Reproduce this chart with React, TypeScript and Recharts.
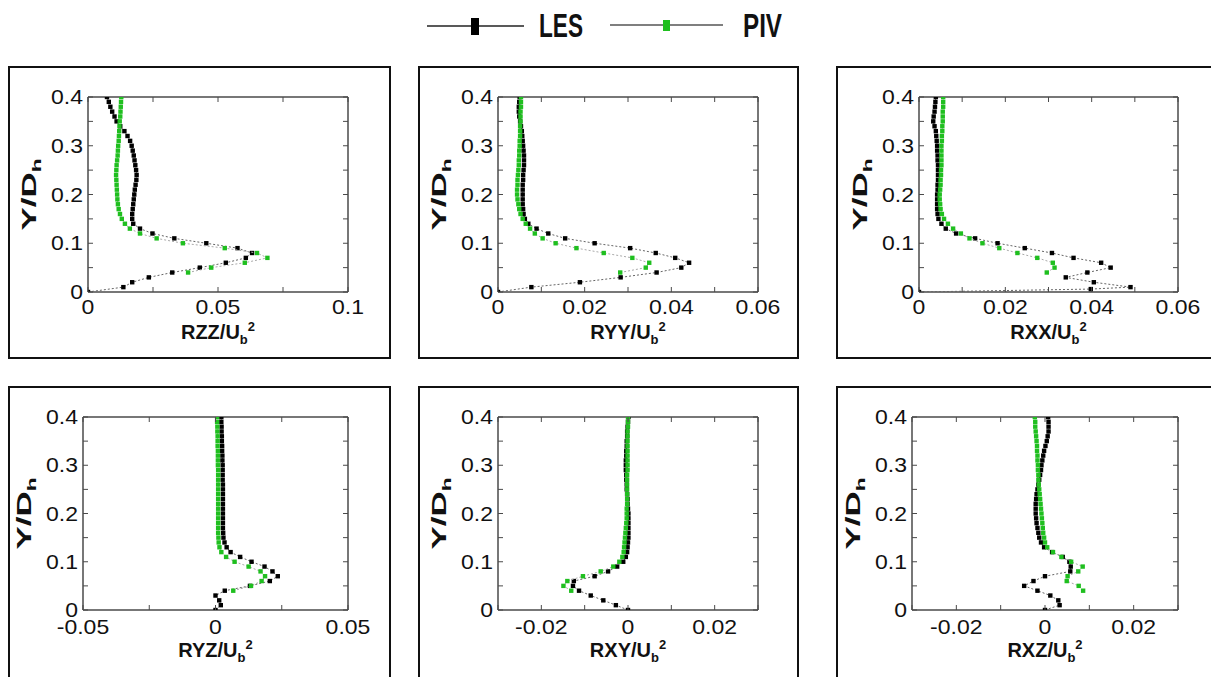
import React from 'react';
import { ScatterChart, Scatter, XAxis, YAxis, ReferenceLine, Label } from 'recharts';

// Y/Dh stations
const yLES = [0, 0.01, 0.02, 0.03, 0.04, 0.05, 0.06, 0.07, 0.08, 0.09, 0.1, 0.11, 0.12, 0.13, 0.14, 0.15, 0.16, 0.17, 0.18, 0.19, 0.2,
  0.21, 0.22, 0.23, 0.24, 0.25, 0.26, 0.27, 0.28, 0.29, 0.3, 0.31, 0.32, 0.33, 0.34, 0.35, 0.36, 0.37, 0.38, 0.39, 0.4];
const yLESrxx = [0, 0.006, 0.01, 0.02, 0.03, 0.04, 0.05, 0.06, 0.07, 0.08, 0.09, 0.1, 0.11, 0.12, 0.13, 0.14, 0.15, 0.16, 0.17, 0.18, 0.19, 0.2,
  0.21, 0.22, 0.23, 0.24, 0.25, 0.26, 0.27, 0.28, 0.29, 0.3, 0.31, 0.32, 0.33, 0.34, 0.35, 0.36, 0.37, 0.38, 0.39, 0.4];
const yPIV = [0.04, 0.05, 0.06, 0.07, 0.08, 0.09, 0.1, 0.11, 0.12, 0.13, 0.14, 0.15, 0.16, 0.17, 0.18, 0.19, 0.2,
  0.21, 0.22, 0.23, 0.24, 0.25, 0.26, 0.27, 0.28, 0.29, 0.3, 0.31, 0.32, 0.33, 0.34, 0.35, 0.36, 0.37, 0.38, 0.39, 0.4];

// Reynolds stresses / Ub^2
const rzzLES = [0, 0.0136, 0.017, 0.0234, 0.0324, 0.043, 0.053, 0.0607, 0.0631, 0.0575, 0.0455, 0.0332, 0.0248, 0.02, 0.0174,
  0.017, 0.017, 0.0172, 0.0174, 0.0176, 0.0178, 0.018, 0.0183, 0.0186, 0.0187, 0.0185, 0.0182, 0.0179, 0.0176, 0.0172,
  0.0168, 0.0162, 0.0152, 0.014, 0.0124, 0.011, 0.0102, 0.0093, 0.0086, 0.008, 0.0073];
const rzzPIV = [0.0385, 0.0474, 0.0603, 0.069, 0.065, 0.0526, 0.0365, 0.0264, 0.02, 0.0161, 0.0142, 0.013, 0.0123, 0.0118,
  0.0115, 0.0113, 0.0112, 0.0111, 0.011, 0.0109, 0.0108, 0.0109, 0.011, 0.0112, 0.0114, 0.0115, 0.0116, 0.0118, 0.0119,
  0.012, 0.0121, 0.0122, 0.0124, 0.0125, 0.0126, 0.0127, 0.0128];

const ryyLES = [0, 0.0077, 0.0189, 0.0283, 0.0366, 0.0423, 0.0441, 0.0409, 0.0364, 0.0305, 0.0223, 0.0155, 0.0116, 0.0089,
  0.007, 0.0062, 0.0059, 0.0058, 0.0057, 0.0057, 0.0057, 0.0057, 0.0057, 0.0058, 0.0058, 0.0059, 0.006, 0.006, 0.006,
  0.0059, 0.0058, 0.0057, 0.0056, 0.0055, 0.0053, 0.0051, 0.0049, 0.0048, 0.0048, 0.0049, 0.005];
const ryyPIV = [0.0282, 0.0341, 0.0349, 0.031, 0.0244, 0.0181, 0.0133, 0.0103, 0.0085, 0.0074, 0.0064, 0.0057, 0.0052,
  0.0049, 0.0047, 0.0045, 0.0044, 0.0044, 0.0045, 0.0045, 0.0046, 0.0047, 0.0048, 0.0048, 0.0049, 0.0049, 0.005, 0.005,
  0.0051, 0.0051, 0.0051, 0.0052, 0.0052, 0.0052, 0.0053, 0.0053, 0.0053];

const rxxLES = [0, 0.0398, 0.049, 0.0405, 0.034, 0.039, 0.0444, 0.0422, 0.0358, 0.0308, 0.0245, 0.0182, 0.013, 0.0086,
  0.0062, 0.0052, 0.0045, 0.0043, 0.0042, 0.0042, 0.0042, 0.0042, 0.0043, 0.0043, 0.0044, 0.0044, 0.0044, 0.0044, 0.0043,
  0.0043, 0.0042, 0.0042, 0.0041, 0.004, 0.0039, 0.0036, 0.0033, 0.0034, 0.0036, 0.0037, 0.0038, 0.0039];
const rxxPIV = [0.0296, 0.0314, 0.031, 0.0274, 0.0228, 0.0186, 0.0147, 0.0117, 0.0097, 0.0079, 0.0067, 0.0058, 0.0053,
  0.005, 0.0049, 0.0048, 0.0048, 0.0049, 0.005, 0.005, 0.0051, 0.0051, 0.0052, 0.0052, 0.0052, 0.0052, 0.0052, 0.0053,
  0.0053, 0.0054, 0.0054, 0.0055, 0.0055, 0.0055, 0.0056, 0.0056, 0.0056];

const ryzLES = [0, 0.002, 0.0014, 0, 0.0035, 0.013, 0.0205, 0.0235, 0.0215, 0.0185, 0.0136, 0.0093, 0.0057, 0.0042, 0.0034,
  0.003, 0.0029, 0.0028, 0.0028, 0.0028, 0.0028, 0.0028, 0.0028, 0.0028, 0.0028, 0.0028, 0.0028, 0.0027, 0.0027, 0.0027,
  0.0027, 0.0026, 0.0026, 0.0025, 0.0025, 0.0024, 0.0024, 0.0023, 0.0023, 0.0022, 0.0022];
const ryzPIV = [0.0067, 0.0134, 0.0174, 0.0187, 0.017, 0.0125, 0.0072, 0.004, 0.0022, 0.0015, 0.0012, 0.0011, 0.001, 0.001,
  0.001, 0.001, 0.001, 0.001, 0.001, 0.001, 0.001, 0.001, 0.001, 0.001, 0.001, 0.001, 0.0009, 0.0009, 0.0009, 0.0009,
  0.0008, 0.0008, 0.0008, 0.0007, 0.0007, 0.0006, 0.0006];

const rxyLES = [0, -0.0028, -0.0057, -0.0086, -0.0113, -0.0127, -0.0125, -0.0077, -0.0046, -0.0025, -0.0011, -0.0005,
  -0.0002, -0.0001, 0, 0.0001, 0.0001, 0.0001, 0.0001, 0.0001, 0.0001, 0, -0.0001, -0.0001, -0.0002, -0.0003, -0.0003,
  -0.0004, -0.0004, -0.0005, -0.0005, -0.0005, -0.0004, -0.0004, -0.0003, -0.0003, -0.0002, -0.0002, -0.0001, 0, 0.0001];
const rxyPIV = [-0.0131, -0.0149, -0.014, -0.0104, -0.0063, -0.0034, -0.002, -0.0013, -0.001, -0.0009, -0.0008, -0.0007,
  -0.0006, -0.0005, -0.0004, -0.0003, -0.0003, -0.0003, -0.0002, -0.0002, -0.0002, -0.0002, -0.0002, -0.0002, -0.0002,
  -0.0001, -0.0001, -0.0001, -0.0001, -0.0001, -0.0001, -0.0001, -0.0001, -0.0001, 0, 0, 0];

const rxzLES = [0, 0.0033, 0.003, 0.0012, -0.0017, -0.0047, -0.0026, 0, 0.0057, 0.0058, 0.0055, 0.004, 0.0016, -0.0002,
  -0.0009, -0.0013, -0.0015, -0.0017, -0.0019, -0.002, -0.0021, -0.0021, -0.0021, -0.002, -0.0019, -0.0017, -0.0015,
  -0.0013, -0.0011, -0.0009, -0.0008, -0.0006, -0.0004, -0.0002, 0.0001, 0.0004, 0.0006, 0.0008, 0.0008, 0.0008, 0.0007];
const rxzPIV = [0.0086, 0.0076, 0.0049, 0.0051, 0.0075, 0.0085, 0.0059, 0.0037, 0.0018, 0.0005, 0, -0.0002, -0.0004,
  -0.0005, -0.0006, -0.0007, -0.0008, -0.0009, -0.001, -0.0011, -0.0012, -0.0013, -0.0014, -0.0015, -0.0015, -0.0016,
  -0.0016, -0.0017, -0.0017, -0.0018, -0.0018, -0.0019, -0.002, -0.0021, -0.0022, -0.0022, -0.0023];

// axis ticks (labelled + unlabelled minor ticks)
const yMajor = [0, 0.1, 0.2, 0.3, 0.4];
const yMinor = [0.05, 0.15, 0.25, 0.35];
const xMajor01 = [0, 0.05, 0.1];
const xMinor01 = [0.025, 0.075];
const xMajor06 = [0, 0.02, 0.04, 0.06];
const xMinor06 = [0.01, 0.03, 0.05];
const xMajor05 = [-0.05, 0, 0.05];
const xMinor05 = [-0.025, 0.025];
const xMajor03 = [-0.02, 0, 0.02];
const xMinor03 = [-0.03, -0.01, 0.01, 0.03];

const FONT = '"Liberation Sans", Arial, Helvetica, sans-serif';
const FRAME = '#4a4a4a';
const GREEN = '#1fbf1f';
const TICK = 5;
const PAD_L = 75;
const PAD_T = 12;
const PAD_R = 45;
const PAD_B = 62;

const pts = (xs: number[], ys: number[]) => xs.map((x, i) => ({ x, y: ys[i] }));

const panels = [
  { name: 'RZZ', les: pts(rzzLES, yLES), piv: pts(rzzPIV, yPIV), domain: [0, 0.1], major: xMajor01, minor: xMinor01,
    plot: { x: 88, y: 97, w: 260, h: 195 }, box: { x: 8, y: 66, w: 383, h: 293 }, tickDy: 22, titleDy: 47 },
  { name: 'RYY', les: pts(ryyLES, yLES), piv: pts(ryyPIV, yPIV), domain: [0, 0.06], major: xMajor06, minor: xMinor06,
    plot: { x: 498, y: 97, w: 260, h: 195 }, box: { x: 418, y: 66, w: 381, h: 293 }, tickDy: 22, titleDy: 47 },
  { name: 'RXX', les: pts(rxxLES, yLESrxx), piv: pts(rxxPIV, yPIV), domain: [0, 0.06], major: xMajor06, minor: xMinor06,
    plot: { x: 919, y: 97, w: 259, h: 195 }, box: { x: 836, y: 66, w: 400, h: 293 }, tickDy: 22, titleDy: 47 },
  { name: 'RYZ', les: pts(ryzLES, yLES), piv: pts(ryzPIV, yPIV), domain: [-0.05, 0.05], major: xMajor05, minor: xMinor05,
    plot: { x: 83, y: 417, w: 265, h: 193 }, box: { x: 8, y: 386, w: 383, h: 320 }, tickDy: 24, titleDy: 47 },
  { name: 'RXY', les: pts(rxyLES, yLES), piv: pts(rxyPIV, yPIV), domain: [-0.03, 0.03], major: xMajor03, minor: xMinor03,
    plot: { x: 498, y: 417, w: 260, h: 193 }, box: { x: 418, y: 386, w: 381, h: 320 }, tickDy: 24, titleDy: 47 },
  { name: 'RXZ', les: pts(rxzLES, yLES), piv: pts(rxzPIV, yPIV), domain: [-0.03, 0.03], major: xMajor03, minor: xMinor03,
    plot: { x: 912, y: 417, w: 266, h: 193 }, box: { x: 836, y: 386, w: 400, h: 320 }, tickDy: 24, titleDy: 47 },
];

const square = (color: string) => (p: any) => (
  <rect x={p.cx - 2.2} y={p.cy - 2.2} width={4.4} height={4.4} fill={color} />
);

function Panel({ cfg }: { cfg: (typeof panels)[number] }) {
  const { plot, box } = cfg;
  const width = plot.w + PAD_L + PAD_R;
  const height = plot.h + PAD_T + PAD_B;
  const plotRight = PAD_L + plot.w;
  const xTicks = [...cfg.major, ...cfg.minor].sort((a, b) => a - b);
  const yTicks = [...yMajor, ...yMinor].sort((a, b) => a - b);

  const xTick = (props: any) => {
    const { x, y, payload } = props;
    const v = payload.value;
    return (
      <g>
        <line x1={x} y1={y} x2={x} y2={y - TICK} stroke={FRAME} />
        <line x1={x} y1={PAD_T} x2={x} y2={PAD_T + TICK} stroke={FRAME} />
        {cfg.major.includes(v) && (
          <text transform={`translate(${x},${y + cfg.tickDy}) scale(1.15,1)`} textAnchor="middle"
            fontSize={20} fontFamily={FONT} fill="#111">{String(v)}</text>
        )}
      </g>
    );
  };

  const yTick = (props: any) => {
    const { x, y, payload } = props;
    const v = payload.value;
    return (
      <g>
        <line x1={x} y1={y} x2={x + TICK} y2={y} stroke={FRAME} />
        <line x1={plotRight} y1={y} x2={plotRight - TICK} y2={y} stroke={FRAME} />
        {yMajor.includes(v) && (
          <text transform={`translate(${x - 5},${y + 7}) scale(1.15,1)`} textAnchor="end"
            fontSize={20} fontFamily={FONT} fill="#111">{String(v)}</text>
        )}
      </g>
    );
  };

  const xTitle = (props: any) => {
    const vb = props.viewBox;
    return (
      <text x={vb.x + vb.width / 2} y={vb.y + cfg.titleDy} textAnchor="middle" fontSize={20}
        fontWeight="bold" fontFamily={FONT} fill="#111">
        <tspan>{cfg.name}/U</tspan>
        <tspan fontSize={13} dy={5}>b</tspan>
        <tspan fontSize={13} dy={-13}>2</tspan>
      </text>
    );
  };

  const yTitle = (props: any) => {
    const vb = props.viewBox;
    const cx = vb.x + vb.width - 52;
    const cy = vb.y + vb.height / 2;
    return (
      <text transform={`translate(${cx},${cy}) rotate(-90) scale(1.75,1)`} textAnchor="middle" fontSize={20}
        fontWeight="bold" fontFamily={FONT} fill="#111">
        <tspan>Y/D</tspan>
        <tspan fontSize={13} dy={5}>h</tspan>
      </text>
    );
  };

  return (
    <>
      <div style={{ position: 'absolute', left: box.x, top: box.y, width: box.w, height: box.h,
        border: '2px solid #111', boxSizing: 'border-box' }} />
      <div style={{ position: 'absolute', left: plot.x - PAD_L, top: plot.y - PAD_T }}>
        <ScatterChart width={width} height={height} margin={{ top: PAD_T, right: PAD_R, bottom: 0, left: 0 }}>
          <XAxis type="number" dataKey="x" domain={cfg.domain} allowDataOverflow ticks={xTicks} interval={0}
            tick={xTick} tickLine={false} tickSize={0} tickMargin={0} height={PAD_B}
            axisLine={{ stroke: FRAME, strokeWidth: 1.5 }}>
            <Label content={xTitle} />
          </XAxis>
          <YAxis type="number" dataKey="y" domain={[0, 0.4]} allowDataOverflow ticks={yTicks} interval={0}
            tick={yTick} tickLine={false} tickSize={0} tickMargin={0} width={PAD_L}
            axisLine={{ stroke: FRAME, strokeWidth: 1.5 }}>
            <Label content={yTitle} />
          </YAxis>
          <ReferenceLine y={0.4} stroke={FRAME} strokeWidth={1.5} />
          <ReferenceLine x={cfg.domain[1]} stroke={FRAME} strokeWidth={1.5} />
          <Scatter data={cfg.les} isAnimationActive={false} shape={square('#000')}
            line={{ stroke: '#666', strokeWidth: 1, strokeDasharray: '2 2' }} lineType="joint" />
          <Scatter data={cfg.piv} isAnimationActive={false} shape={square(GREEN)}
            line={{ stroke: '#aaa', strokeWidth: 1, strokeDasharray: '2 2' }} lineType="joint" />
        </ScatterChart>
      </div>
    </>
  );
}

function TopLegend() {
  return (
    <svg width={1211} height={56} style={{ position: 'absolute', left: 0, top: 0 }}>
      <line x1={427} y1={26} x2={524} y2={26} stroke="#222" strokeWidth={1.3} />
      <rect x={471} y={18} width={8} height={17} fill="#000" />
      <text x={539} y={37} fontSize={34} fontWeight="bold" fontFamily={FONT} textLength={44}
        lengthAdjust="spacingAndGlyphs" fill="#111">LES</text>
      <line x1={610} y1={25} x2={723} y2={25} stroke="#555" strokeWidth={1.3} />
      <rect x={663} y={20} width={7} height={11} fill={GREEN} />
      <text x={743} y={37} fontSize={34} fontWeight="bold" fontFamily={FONT} textLength={39}
        lengthAdjust="spacingAndGlyphs" fill="#111">PIV</text>
    </svg>
  );
}

export default function App() {
  return (
    <div style={{ position: 'absolute', left: 0, top: 0, width: 1211, height: 677, overflow: 'hidden',
      background: '#fff', fontFamily: FONT }}>
      <TopLegend />
      {panels.map((p) => <Panel key={p.name} cfg={p} />)}
    </div>
  );
}
